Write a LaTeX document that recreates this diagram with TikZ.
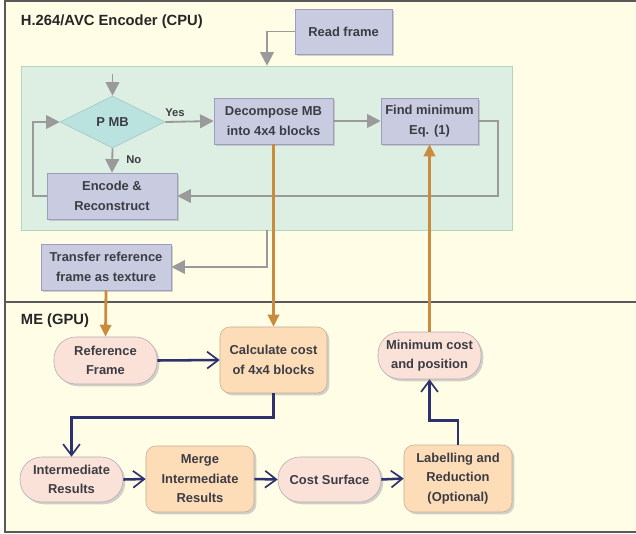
\documentclass[tikz,border=0pt]{standalone}
\usepackage{fontspec}
\setmainfont{Liberation Sans}
\usepackage{xcolor}
\usepackage{tikz}
\usetikzlibrary{arrows.meta,positioning,shapes.geometric,shadows}

\definecolor{bgcream}{HTML}{FFFDE6}
\definecolor{panelgreen}{HTML}{DDEEE2}
\definecolor{panelline}{HTML}{B4D4C0}
\definecolor{boxgrey}{HTML}{C9CBE0}
\definecolor{boxline}{HTML}{9C9EBE}
\definecolor{diamfill}{HTML}{BAE3E0}
\definecolor{diamline}{HTML}{A0C8C4}
\definecolor{pillfill}{HTML}{FBE2D8}
\definecolor{pillline}{HTML}{B8A8B4}
\definecolor{orfill}{HTML}{FDDDB8}
\definecolor{orline}{HTML}{C8AC98}
\definecolor{greyarr}{HTML}{9A9A9A}
\definecolor{orarr}{HTML}{C98B3E}
\definecolor{navy}{HTML}{2E3170}
\definecolor{txt}{HTML}{3C3C44}

\begin{document}
\begin{tikzpicture}[
  x=0.025cm, y=-0.025cm,
  font=\fontsize{9.2}{13.8}\selectfont\bfseries, text=txt,
  shad/.style={drop shadow={shadow xshift=1.6pt, shadow yshift=-1.6pt, fill=black!30, opacity=0.6}},
  cpubox/.style={draw=boxline, fill=boxgrey, align=center, inner sep=1pt, shad},
  pill/.style={draw=pillline, fill=pillfill, rounded corners=0.55cm, align=center, inner sep=1pt, shad},
  gpubox/.style={draw=orline, fill=orfill, rounded corners=0.25cm, align=center, inner sep=1pt, shad},
  decision/.style={diamond, draw=diamline, fill=diamfill, inner sep=0pt, minimum width=2.625cm, minimum height=1.3cm},
  garr/.style={-{Triangle[length=3.4mm, width=3.4mm]}, draw=greyarr, line width=1.3pt},
  oarr/.style={-{Triangle[length=3mm, width=2.8mm]}, draw=orarr, line width=2pt},
  narr/.style={-{Straight Barb[length=2.8mm, width=4.2mm, line width=1.2pt]}, draw=navy, line width=1.8pt},
  title/.style={anchor=west, font=\fontsize{10.5}{12}\selectfont\bfseries, text=black!85},
]
% background and frame
\useasboundingbox (0,0) rectangle (636,533);
\fill[bgcream] (5,1) rectangle (636,532);
\draw[black!65, line width=0.8pt] (636,1) -- (5,1) -- (5,532) -- (636,532);
\draw[black!65, line width=0.8pt] (5,302) -- (636,302);
\node[title] (cputitle) at (16,22) {H.264/AVC Encoder (CPU)};
\node[title] (gputitle) at (16,321) {ME (GPU)};

% CPU side
\node[draw=panelline, fill=panelgreen, minimum width=12.275cm, minimum height=4.1cm] (panel) at (266.5,148) {};
\node[cpubox, minimum width=2.425cm, minimum height=1.125cm] (readf) at (343.5,31.5) {Read frame};
\node[decision] (pmb) at (112.5,122) {P MB};
\node[cpubox, minimum width=2.975cm, minimum height=1.15cm] (decomp) at (273.5,121) {Decompose MB\\into 4x4 blocks};
\node[cpubox, minimum width=2.425cm, minimum height=1.15cm] (findmin) at (429.5,121) {Find minimum\\Eq. (1)};
\node[cpubox, minimum width=3.25cm, minimum height=1.15cm] (encode) at (112,196) {Encode \&\\Reconstruct};
\node[cpubox, minimum width=3.25cm, minimum height=1.15cm] (transfer) at (106,267) {Transfer reference\\frame as texture};
\coordinate (pin) at (112.5,74);
\coordinate (c1) at (267,0);

% GPU side
\node[pill, minimum width=2.575cm, minimum height=1.175cm] (refframe) at (105.5,360.5) {Reference\\Frame};
\node[gpubox, minimum width=2.675cm, minimum height=1.65cm] (calc) at (273.5,360) {Calculate cost\\of 4x4 blocks};
\node[pill, minimum width=2.575cm, minimum height=1.175cm] (mincost) at (429.5,355.5) {Minimum cost\\and position};
\node[pill, minimum width=2.575cm, minimum height=1.125cm] (inter) at (71.5,479.5) {Intermediate\\Results};
\node[gpubox, minimum width=2.7cm, minimum height=1.65cm] (merge) at (200,479) {Merge\\Intermediate\\Results};
\node[pill, minimum width=2.575cm, minimum height=1.125cm] (costsurf) at (329.5,479.5) {Cost Surface};
\node[gpubox, minimum width=2.7cm, minimum height=1.675cm] (labred) at (458,478.5) {Labelling and\\Reduction\\(Optional)};

% grey flow
\draw[garr] (readf.west) -| (c1 |- panel.north);
\draw[garr] (pin) -- (pmb.north);
\draw[garr] (pmb.east) -- node[above, pos=0.2, font=\fontsize{8}{10}\selectfont\bfseries] {Yes} (decomp.west);
\draw[garr] (pmb.south) -- node[right, pos=0.45, xshift=6pt, font=\fontsize{8}{10}\selectfont\bfseries] {No} (encode.north);
\draw[garr] (decomp.east) -- (findmin.west);
\draw[garr] (findmin.east) -- ++(20,0) |- (encode.east);
\draw[garr] (encode.west) -- ++(-14,0) |- (pmb.west);
\draw[garr] (c1 |- panel.south) |- (transfer.east);

% orange links
\draw[oarr] (transfer.south) -- (refframe.north);
\draw[oarr] (decomp.south) -- (calc.north);
\draw[oarr] (mincost.north) -- (findmin.south);

% navy flow
\draw[narr] (refframe.east) -- (calc.west);
\draw[narr] (calc.south) -- ++(0,24) -| (inter.north);
\draw[narr] (inter.east) -- (merge.west);
\draw[narr] (merge.east) -- (costsurf.west);
\draw[narr] (costsurf.east) -- (labred.west);
\draw[narr] (labred.north) -- ++(0,-24) -| (mincost.south);
\end{tikzpicture}
\end{document}
